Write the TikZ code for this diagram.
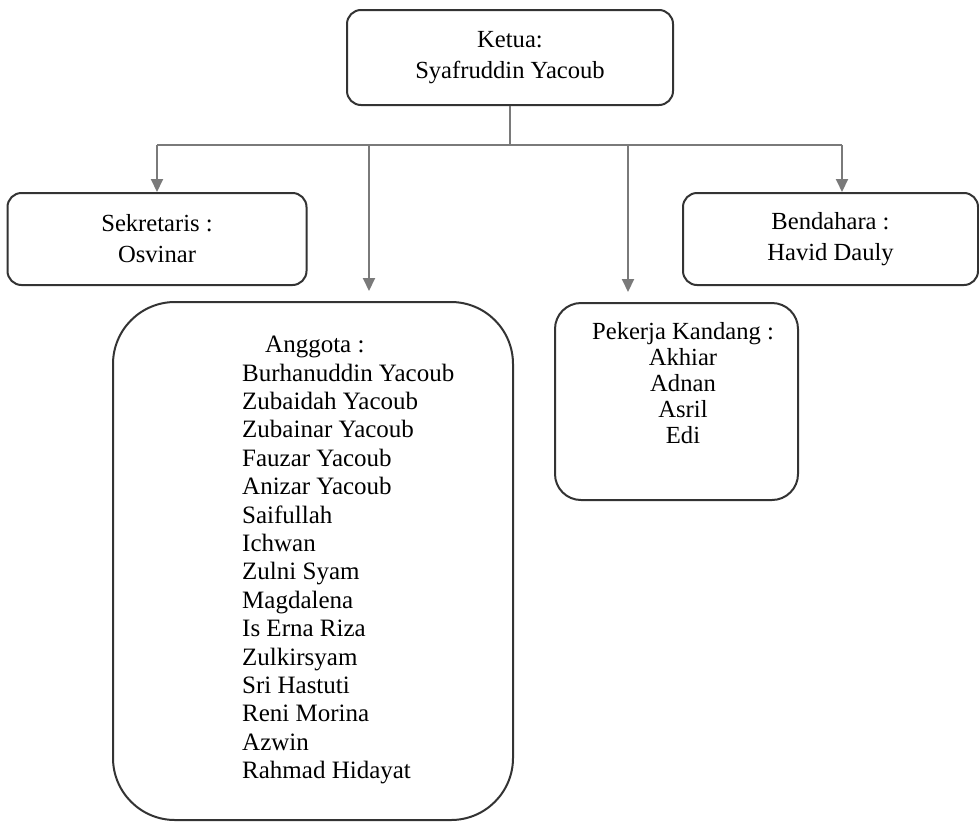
\documentclass[tikz,border=0pt]{standalone}
\usepackage{fontspec}
\setmainfont{Liberation Serif}
\usetikzlibrary{arrows.meta,positioning}
\definecolor{wiregray}{HTML}{7A7A7A}
\definecolor{framegray}{HTML}{333333}
\tikzset{%
    post/.style={%
        rectangle,
        draw=framegray,
        line width=2pt,
        rounded corners=14pt,
        align=center,
        inner sep=0pt
    },
    roster/.style={%
        inner sep=0pt,
        anchor=north west,
        align=left
    },
    wire/.style={%
        draw=wiregray,
        line width=2pt
    },
    feed/.style={%
        wire,
        -{Triangle[length=13pt,width=12pt]}
    }
}

\begin{document}
\begin{tikzpicture}[x=1pt,y=-1pt,font=\fontsize{24.6}{31}\selectfont]
  \useasboundingbox (0,0) rectangle (979,822);
  \node[post,minimum width=326pt,minimum height=95pt] (ketua) at (510,57.5) {Ketua:\\Syafruddin Yacoub};
  \node[post,minimum width=299pt,minimum height=92pt] (sekretaris) at (157,239) {Sekretaris :\\Osvinar};
  \node[post,minimum width=295pt,minimum height=92pt] (bendahara) at (830.5,239) {Bendahara :\\Havid Dauly};
  \node[post,rounded corners=62pt,minimum width=400pt,minimum height=518pt] (anggota) at (313,561) {};
  \node[post,rounded corners=26pt,minimum width=243pt,minimum height=197pt] (pekerja) at (676.5,401.5) {};
  \node[roster,font=\fontsize{25}{28.4}\selectfont] (anggotaList) at (242,336) {%
    \hspace*{23pt}Anggota :\\
    Burhanuddin Yacoub\\
    Zubaidah Yacoub\\
    Zubainar Yacoub\\
    Fauzar Yacoub\\
    Anizar Yacoub\\
    Saifullah\\
    Ichwan\\
    Zulni Syam\\
    Magdalena\\
    Is Erna Riza\\
    Zulkirsyam\\
    Sri Hastuti\\
    Reni Morina\\
    Azwin\\
    Rahmad Hidayat};
  \node[inner sep=0pt,anchor=north,align=center,font=\fontsize{24.6}{26}\selectfont] (pekerjaList) at (683,322) {%
    Pekerja Kandang :\\Akhiar\\Adnan\\Asril\\Edi};
  \coordinate (busL) at (157,145);
  \coordinate (busR) at (842,145);
  \coordinate (dropAnggota) at (369,145);
  \coordinate (dropPekerja) at (628,145);
  \draw[wire] (ketua.south) -- (ketua.south |- busL);
  \draw[wire] (busL) -- (busR);
  \draw[feed] (busL) -- (sekretaris.north);
  \draw[feed] (busR) -- (busR |- bendahara.north);
  \draw[feed,shorten >=10pt] (dropAnggota) -- (dropAnggota |- anggota.north);
  \draw[feed,shorten >=10pt] (dropPekerja) -- (dropPekerja |- pekerja.north);
\end{tikzpicture}
\end{document}
